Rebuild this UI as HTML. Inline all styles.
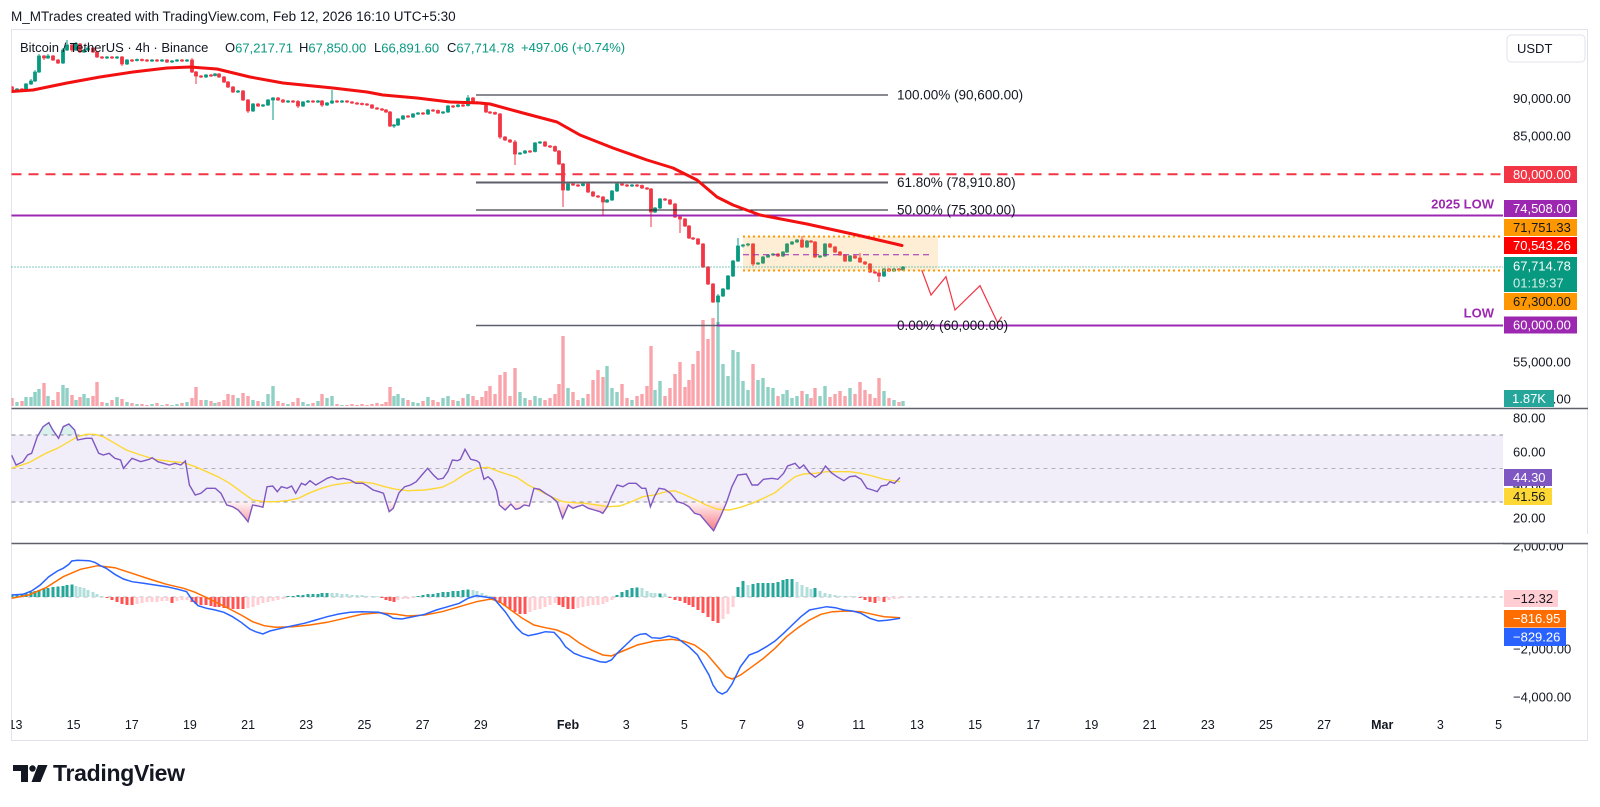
<!DOCTYPE html>
<html><head><meta charset="utf-8"><title>BTCUSDT 4h chart</title>
<style>
html,body{margin:0;padding:0;background:#fff;}
body{width:1600px;height:807px;overflow:hidden;position:relative;}
svg{position:absolute;left:0;top:0;font-family:"Liberation Sans",Arial,sans-serif;}
.ax{font-size:13px;fill:#131722;dominant-baseline:central;}
.lw{font-size:13px;fill:#ffffff;dominant-baseline:central;}
.ld{font-size:13px;fill:#131722;dominant-baseline:central;}
.tm{font-size:12.5px;fill:#131722;text-anchor:middle;dominant-baseline:central;}
.fib{font-size:13.5px;fill:#131722;dominant-baseline:central;}
.hd{font-size:13px;fill:#131722;dominant-baseline:central;}
.hv{font-size:13px;fill:#089981;dominant-baseline:central;}
</style></head><body>
<svg width="1600" height="807" viewBox="0 0 1600 807" xmlns="http://www.w3.org/2000/svg">
<defs>
<clipPath id="cm"><rect x="11.5" y="30" width="1491.5" height="378"/></clipPath>
<clipPath id="cr"><rect x="11.5" y="409" width="1491.5" height="134"/></clipPath>
<clipPath id="cmd"><rect x="11.5" y="544" width="1491.5" height="170"/></clipPath>
<clipPath id="ct"><rect x="11.5" y="712" width="1491.5" height="28"/></clipPath>
<linearGradient id="pg" gradientUnits="userSpaceOnUse" x1="0" y1="502" x2="0" y2="528"><stop offset="0" stop-color="#f23645" stop-opacity="0.05"/><stop offset="1" stop-color="#f23645" stop-opacity="0.6"/></linearGradient>
</defs>

<text x="11" y="16.5" class="hd" style="font-size:13.5px">M_MTrades created with TradingView.com, Feb 12, 2026 16:10 UTC+5:30</text>
<rect x="11.5" y="29.5" width="1576" height="711" fill="#fff" stroke="#e0e3eb"/>

<rect x="11.5" y="435" width="1491.5" height="67" fill="#f2eef9"/>
<line x1="11.5" x2="1503" y1="435" y2="435" stroke="#8a8d96" stroke-dasharray="4 4"/>
<line x1="11.5" x2="1503" y1="468.5" y2="468.5" stroke="#b0b2ba" stroke-dasharray="4 4"/>
<line x1="11.5" x2="1503" y1="502" y2="502" stroke="#8a8d96" stroke-dasharray="4 4"/>
<line x1="11.5" x2="1503" y1="597" y2="597" stroke="#b8bac2" stroke-dasharray="4 4"/>

<g clip-path="url(#cm)">
<path fill="#089981" fill-opacity="0.45" d="M15.3 402h3.4v4h-3.4z M24.3 397h3.4v9h-3.4z M29.3 397h3.4v9h-3.4z M33.3 392h3.4v14h-3.4z M37.3 389h3.4v17h-3.4z M46.3 396h3.4v10h-3.4z M61.3 385h3.4v21h-3.4z M65.3 388h3.4v18h-3.4z M74.3 400h3.4v6h-3.4z M82.3 394h3.4v12h-3.4z M86.3 398h3.4v8h-3.4z M105.3 403h3.4v3h-3.4z M115.3 397h3.4v9h-3.4z M125.3 402h3.4v4h-3.4z M135.3 404h3.4v2h-3.4z M150.3 404h3.4v2h-3.4z M160.3 405h3.4v1h-3.4z M170.3 405h3.4v1h-3.4z M175.3 404h3.4v2h-3.4z M185.3 402h3.4v4h-3.4z M204.3 400h3.4v6h-3.4z M213.3 403h3.4v3h-3.4z M236.3 398h3.4v8h-3.4z M251.3 400h3.4v6h-3.4z M261.3 402h3.4v4h-3.4z M266.3 394h3.4v12h-3.4z M271.3 386h3.4v20h-3.4z M286.3 404h3.4v2h-3.4z M301.3 402h3.4v4h-3.4z M306.3 404h3.4v2h-3.4z M316.3 401h3.4v5h-3.4z M325.3 398h3.4v8h-3.4z M330.3 396h3.4v10h-3.4z M340.3 405h3.4v1h-3.4z M392.3 396h3.4v10h-3.4z M396.3 394h3.4v12h-3.4z M401.3 398h3.4v8h-3.4z M411.3 402h3.4v4h-3.4z M416.3 403h3.4v3h-3.4z M426.3 397h3.4v9h-3.4z M441.3 398h3.4v8h-3.4z M446.3 396h3.4v10h-3.4z M456.3 401h3.4v5h-3.4z M466.3 394h3.4v12h-3.4z M518.3 392h3.4v14h-3.4z M523.3 398h3.4v8h-3.4z M533.3 396h3.4v10h-3.4z M538.3 398h3.4v8h-3.4z M566.3 388h3.4v18h-3.4z M581.3 398h3.4v8h-3.4z M605.3 366h3.4v40h-3.4z M610.3 388h3.4v18h-3.4z M615.3 392h3.4v14h-3.4z M630.3 400h3.4v6h-3.4z M653.3 390h3.4v16h-3.4z M658.3 381h3.4v25h-3.4z M716.3 322h3.4v84h-3.4z M721.3 364h3.4v42h-3.4z M726.3 376h3.4v30h-3.4z M731.3 350h3.4v56h-3.4z M736.3 352h3.4v54h-3.4z M741.3 381h3.4v25h-3.4z M746.3 390h3.4v16h-3.4z M756.3 380h3.4v26h-3.4z M761.3 378h3.4v28h-3.4z M766.3 387h3.4v19h-3.4z M771.3 388h3.4v18h-3.4z M781.3 394h3.4v12h-3.4z M785.3 390h3.4v16h-3.4z M790.3 398h3.4v8h-3.4z M795.3 396h3.4v10h-3.4z M805.3 394h3.4v12h-3.4z M818.3 396h3.4v10h-3.4z M823.3 386h3.4v20h-3.4z M848.3 388h3.4v18h-3.4z M882.3 391h3.4v15h-3.4z M892.3 400h3.4v6h-3.4z M901.3 401h3.4v5h-3.4z"/>
<path fill="#f23645" fill-opacity="0.45" d="M10.3 398h3.4v8h-3.4z M20.3 401h3.4v5h-3.4z M42.3 383h3.4v23h-3.4z M51.3 400h3.4v6h-3.4z M56.3 392h3.4v14h-3.4z M70.3 395h3.4v11h-3.4z M78.3 397h3.4v9h-3.4z M91.3 396h3.4v10h-3.4z M95.3 382h3.4v24h-3.4z M100.3 402h3.4v4h-3.4z M110.3 400h3.4v6h-3.4z M120.3 399h3.4v7h-3.4z M130.3 403h3.4v3h-3.4z M140.3 404h3.4v2h-3.4z M145.3 405h3.4v1h-3.4z M155.3 403h3.4v3h-3.4z M165.3 404h3.4v2h-3.4z M180.3 403h3.4v3h-3.4z M190.3 398h3.4v8h-3.4z M194.3 387h3.4v19h-3.4z M199.3 400h3.4v6h-3.4z M209.3 401h3.4v5h-3.4z M217.3 402h3.4v4h-3.4z M222.3 400h3.4v6h-3.4z M226.3 394h3.4v12h-3.4z M231.3 395h3.4v11h-3.4z M241.3 393h3.4v13h-3.4z M246.3 396h3.4v10h-3.4z M256.3 401h3.4v5h-3.4z M276.3 401h3.4v5h-3.4z M281.3 403h3.4v3h-3.4z M291.3 402h3.4v4h-3.4z M296.3 398h3.4v8h-3.4z M311.3 403h3.4v3h-3.4z M320.3 394h3.4v12h-3.4z M335.3 404h3.4v2h-3.4z M345.3 405h3.4v1h-3.4z M350.3 404h3.4v2h-3.4z M355.3 405h3.4v1h-3.4z M360.3 404h3.4v2h-3.4z M365.3 405h3.4v1h-3.4z M370.3 404h3.4v2h-3.4z M375.3 403h3.4v3h-3.4z M380.3 404h3.4v2h-3.4z M384.3 402h3.4v4h-3.4z M388.3 387h3.4v19h-3.4z M406.3 400h3.4v6h-3.4z M421.3 401h3.4v5h-3.4z M431.3 400h3.4v6h-3.4z M436.3 402h3.4v4h-3.4z M451.3 400h3.4v6h-3.4z M461.3 398h3.4v8h-3.4z M471.3 396h3.4v10h-3.4z M475.3 400h3.4v6h-3.4z M480.3 397h3.4v9h-3.4z M484.3 391h3.4v15h-3.4z M488.3 386h3.4v20h-3.4z M493.3 394h3.4v12h-3.4z M498.3 375h3.4v31h-3.4z M503.3 372h3.4v34h-3.4z M508.3 396h3.4v10h-3.4z M513.3 368h3.4v38h-3.4z M528.3 400h3.4v6h-3.4z M543.3 400h3.4v6h-3.4z M548.3 398h3.4v8h-3.4z M553.3 394h3.4v12h-3.4z M557.3 384h3.4v22h-3.4z M561.3 336h3.4v70h-3.4z M571.3 392h3.4v14h-3.4z M576.3 400h3.4v6h-3.4z M586.3 394h3.4v12h-3.4z M591.3 380h3.4v26h-3.4z M596.3 370h3.4v36h-3.4z M601.3 377h3.4v29h-3.4z M620.3 384h3.4v22h-3.4z M625.3 398h3.4v8h-3.4z M635.3 396h3.4v10h-3.4z M640.3 394h3.4v12h-3.4z M645.3 386h3.4v20h-3.4z M649.3 346h3.4v60h-3.4z M663.3 396h3.4v10h-3.4z M668.3 388h3.4v18h-3.4z M673.3 374h3.4v32h-3.4z M678.3 362h3.4v44h-3.4z M683.3 387h3.4v19h-3.4z M687.3 380h3.4v26h-3.4z M691.3 364h3.4v42h-3.4z M696.3 351h3.4v55h-3.4z M701.3 320h3.4v86h-3.4z M706.3 339h3.4v67h-3.4z M711.3 318h3.4v88h-3.4z M751.3 364h3.4v42h-3.4z M776.3 396h3.4v10h-3.4z M800.3 391h3.4v15h-3.4z M809.3 398h3.4v8h-3.4z M813.3 388h3.4v18h-3.4z M828.3 397h3.4v9h-3.4z M833.3 394h3.4v12h-3.4z M838.3 391h3.4v15h-3.4z M843.3 396h3.4v10h-3.4z M853.3 394h3.4v12h-3.4z M858.3 382h3.4v24h-3.4z M863.3 390h3.4v16h-3.4z M868.3 394h3.4v12h-3.4z M873.3 398h3.4v8h-3.4z M877.3 378h3.4v28h-3.4z M887.3 398h3.4v8h-3.4z M897.3 402h3.4v4h-3.4z"/>

<path fill="none" stroke="#089981" stroke-width="1" d="M17 88V92 M26 83V91 M31 79V85 M35 70V82 M39 54V73 M48 54V59 M63 48V64 M67 40V51 M76 42V51 M84 49V53 M88 46V51 M107 56V59 M117 56V59 M127 59V65 M137 58.5V61.5 M152 59V62 M162 59V62 M172 60V63 M177 59V62 M187 59V62 M206 74V78 M215 73V76.5 M238 90V93 M253 103V112 M263 104V107 M268 99V106 M273 97V120 M288 100V103 M303 101V107 M308 100V103 M318 100V103 M327 102V106 M332 90V104 M342 100V103 M394 124V128 M398 118V126 M403 115V120 M413 113V118 M418 112V115 M428 109V115 M443 111V114 M448 105V113 M458 104V107.5 M468 95V106.5 M520 152V155 M525 150V154 M535 142V152.5 M540 141V144 M568 183V191 M583 183V186.5 M607 199V203 M612 190V201 M617 183V192 M632 184V187 M655 207V213 M660 198V209 M718 294V326 M723 288V297 M728 275V290 M733 260V277 M738 238V262 M743 244V247.5 M748 243V246.5 M758 262V265 M763 256V264 M768 254V258 M773 253V256 M783 251V257 M787 243V253 M792 241V245 M797 239V243 M807 240V248 M820 255V258 M825 243V257 M850 255V262 M884 268V277 M894 268V272 M903 266V271"/>
<path fill="none" stroke="#f23645" stroke-width="1" d="M12 86V92 M22 88V91 M44 55V60 M53 55V61 M58 59V64 M72 44V52 M80 43V53 M93 47V53 M97 51V58 M102 56V59 M112 56V59 M122 56V66 M132 59V62 M142 58.5V61.5 M147 59V62 M157 59V62 M167 59V63 M182 59V62 M192 58V73 M196 71V84 M201 75V78 M211 74V77 M219 73V78 M224 76V83 M228 81V88 M233 86V93 M243 90V101 M248 99V113 M258 103V107 M278 97V101 M283 99V103 M293 100V103 M298 100V108 M313 100V103 M322 100V107 M337 100V103 M347 100V103 M352 101V104 M357 102V105 M362 102.5V105.5 M367 103V106 M372 104V109 M377 107V110 M382 108V111 M386 109V113 M390 111V127 M408 115V118 M423 112V115 M433 109V112 M438 109.5V114 M453 105V108 M463 104V107 M473 97V103 M477 101V104 M482 102V105 M486 103V113 M490 111V114 M495 111.5V115 M500 113V139 M505 136V141 M510 139V143 M515 140V165 M530 150V153 M545 141V147 M550 145V148 M555 145.5V152 M559 150V165 M563 163V207 M573 183V186 M578 184V187 M588 183V193 M593 191V197 M598 195V198 M603 196V215 M622 183V186 M627 184V187 M637 184V187 M642 184.5V189 M647 187V190 M651 188V227 M665 198V201 M670 199V205 M675 203V218 M680 216V233 M685 218V227 M689 225V239 M693 237V240 M698 238V245 M703 243V268 M708 266V285 M713 283V303 M753 243V266 M778 253V257 M802 236V248 M811 240V243 M815 241V258 M830 243V248 M835 246V253 M840 251V256 M845 254V262 M855 255V259 M860 253V263 M865 261V265 M870 263V273 M875 271V274 M879 270V282 M889 268V272 M899 268V271"/>
<path fill="#089981" stroke="#089981" stroke-width="0.8" stroke-linejoin="miter" d="M15.5 89h3v2h-3z M24.5 84h3v6h-3z M29.5 81h3v3h-3z M33.5 72h3v9h-3z M37.5 56h3v16h-3z M46.5 56h3v2h-3z M61.5 50h3v13h-3z M65.5 45h3v5h-3z M74.5 44h3v6h-3z M82.5 50h3v2h-3z M86.5 48h3v2h-3z M105.5 57h3v1h-3z M115.5 57h3v1h-3z M125.5 60h3v4h-3z M135.5 59.5h3v1h-3z M150.5 60h3v1h-3z M160.5 60h3v1h-3z M170.5 61h3v1h-3z M175.5 60h3v1h-3z M185.5 60h3v1h-3z M204.5 75h3v2h-3z M213.5 74h3v1.5h-3z M236.5 91h3v1h-3z M251.5 104h3v7h-3z M261.5 105h3v1h-3z M266.5 100h3v5h-3z M271.5 98h3v2h-3z M286.5 101h3v1h-3z M301.5 102h3v4h-3z M306.5 101h3v1h-3z M316.5 101h3v1h-3z M325.5 103h3v2h-3z M330.5 101h3v2h-3z M340.5 101h3v1h-3z M392.5 125h3v1h-3z M396.5 119h3v6h-3z M401.5 116h3v3h-3z M411.5 114h3v3h-3z M416.5 113h3v1h-3z M426.5 110h3v4h-3z M441.5 112h3v1h-3z M446.5 106h3v6h-3z M456.5 105h3v1.5h-3z M466.5 98h3v7.5h-3z M518.5 153h3v1h-3z M523.5 151h3v2h-3z M533.5 143h3v8.5h-3z M538.5 142h3v1h-3z M566.5 184h3v6h-3z M581.5 184h3v1.5h-3z M605.5 200h3v2h-3z M610.5 191h3v9h-3z M615.5 184h3v7h-3z M630.5 185h3v1h-3z M653.5 208h3v4h-3z M658.5 199h3v9h-3z M716.5 296h3v6h-3z M721.5 289h3v7h-3z M726.5 276h3v13h-3z M731.5 261h3v15h-3z M736.5 246h3v15h-3z M741.5 245h3v1h-3z M746.5 244h3v1h-3z M756.5 263h3v1h-3z M761.5 257h3v6h-3z M766.5 255h3v2h-3z M771.5 254h3v1h-3z M781.5 252h3v4h-3z M785.5 244h3v8h-3z M790.5 242h3v2h-3z M795.5 240h3v2h-3z M805.5 241h3v6h-3z M818.5 256h3v1h-3z M823.5 244h3v12h-3z M848.5 256h3v5h-3z M882.5 269h3v7h-3z M892.5 269h3v2h-3z M901.5 267h3v3h-3z"/>
<path fill="#f23645" stroke="#f23645" stroke-width="0.8" stroke-linejoin="miter" d="M10.5 87h3v4h-3z M20.5 89h3v1h-3z M42.5 56h3v2h-3z M51.5 56h3v4h-3z M56.5 60h3v3h-3z M70.5 45h3v5h-3z M78.5 44h3v8h-3z M91.5 48h3v4h-3z M95.5 52h3v5h-3z M100.5 57h3v1h-3z M110.5 57h3v1h-3z M120.5 57h3v7h-3z M130.5 60h3v1h-3z M140.5 59.5h3v1h-3z M145.5 60h3v1h-3z M155.5 60h3v1h-3z M165.5 60h3v2h-3z M180.5 60h3v1h-3z M190.5 60h3v12h-3z M194.5 72h3v4h-3z M199.5 76h3v1h-3z M209.5 75h3v1h-3z M217.5 74h3v3h-3z M222.5 77h3v5h-3z M226.5 82h3v5h-3z M231.5 87h3v5h-3z M241.5 91h3v9h-3z M246.5 100h3v11h-3z M256.5 104h3v2h-3z M276.5 98h3v2h-3z M281.5 100h3v2h-3z M291.5 101h3v1h-3z M296.5 101.5h3v4.5h-3z M311.5 101h3v1h-3z M320.5 101h3v4h-3z M335.5 101h3v1h-3z M345.5 101h3v1h-3z M350.5 102h3v1h-3z M355.5 103h3v1h-3z M360.5 103.5h3v1h-3z M365.5 104h3v1h-3z M370.5 105h3v3h-3z M375.5 108h3v1h-3z M380.5 109h3v1h-3z M384.5 110h3v2h-3z M388.5 112h3v14h-3z M406.5 116h3v1h-3z M421.5 113h3v1h-3z M431.5 110h3v1h-3z M436.5 110.5h3v2.5h-3z M451.5 106h3v1h-3z M461.5 105h3v1h-3z M471.5 98h3v4h-3z M475.5 102h3v1h-3z M480.5 103h3v1h-3z M484.5 104h3v8h-3z M488.5 112h3v1h-3z M493.5 112.5h3v1.5h-3z M498.5 114h3v23h-3z M503.5 137h3v3h-3z M508.5 140h3v2h-3z M513.5 142h3v12h-3z M528.5 151h3v1h-3z M543.5 142h3v4h-3z M548.5 146h3v1h-3z M553.5 146.5h3v4.5h-3z M557.5 151h3v13h-3z M561.5 164h3v26h-3z M571.5 184h3v1h-3z M576.5 185h3v1h-3z M586.5 184h3v8h-3z M591.5 192h3v4h-3z M596.5 196h3v1h-3z M601.5 197h3v5h-3z M620.5 184h3v1h-3z M625.5 185h3v1h-3z M635.5 185h3v1h-3z M640.5 185.5h3v2.5h-3z M645.5 188h3v1h-3z M649.5 189h3v23h-3z M663.5 199h3v1h-3z M668.5 200h3v4h-3z M673.5 204h3v13h-3z M678.5 217h3v2h-3z M683.5 219h3v7h-3z M687.5 226h3v12h-3z M691.5 238h3v1h-3z M696.5 239h3v5h-3z M701.5 244h3v23h-3z M706.5 267h3v17h-3z M711.5 284h3v18h-3z M751.5 244h3v20h-3z M776.5 254h3v2h-3z M800.5 240h3v7h-3z M809.5 241h3v1h-3z M813.5 242h3v15h-3z M828.5 244h3v3h-3z M833.5 247h3v5h-3z M838.5 252h3v3h-3z M843.5 255h3v6h-3z M853.5 256h3v2h-3z M858.5 258h3v4h-3z M863.5 262h3v2h-3z M868.5 264h3v8h-3z M873.5 272h3v1h-3z M877.5 273h3v3h-3z M887.5 269h3v2h-3z M897.5 269h3v1h-3z"/>

<rect x="743" y="236.5" width="195" height="34" fill="#ff9800" fill-opacity="0.16"/>
<line x1="743" x2="932" y1="254.7" y2="254.7" stroke="#9c27b0" stroke-width="1" stroke-dasharray="6 4"/>
<line x1="11.5" x2="1503" y1="267" y2="267" stroke="#089981" stroke-width="1" stroke-dasharray="1 2"/>
<line x1="743" x2="1503" y1="236.5" y2="236.5" stroke="#ff9800" stroke-width="2" stroke-dasharray="2 3"/>
<line x1="743" x2="1503" y1="270.5" y2="270.5" stroke="#ff9800" stroke-width="2" stroke-dasharray="2 3"/>
<line x1="11.5" x2="1503" y1="174.3" y2="174.3" stroke="#f23645" stroke-width="2" stroke-dasharray="10 7"/>
<line x1="476" x2="888" y1="95" y2="95" stroke="#131722" stroke-width="1"/>
<line x1="476" x2="888" y1="182.5" y2="182.5" stroke="#5d606b" stroke-width="2"/>
<line x1="476" x2="888" y1="210" y2="210" stroke="#131722" stroke-width="1"/>
<line x1="476" x2="888" y1="325.5" y2="325.5" stroke="#5d606b" stroke-width="1.5"/>
<line x1="11.5" x2="1503" y1="215.5" y2="215.5" stroke="#9c27b0" stroke-width="2"/>
<line x1="717" x2="1503" y1="325.5" y2="325.5" stroke="#9c27b0" stroke-width="2"/>
<polyline points="921.7,270 931,295 946,276.7 955,310 980,285.7 997.7,323 1001.7,316.7" fill="none" stroke="#f23645" stroke-width="1.2"/>
<polyline fill="none" stroke="#f21010" stroke-width="3" stroke-linejoin="round" stroke-linecap="round" points="11.5,91.5 33,90 67,83 100,77 133,72 167,68 190,67 217,69 250,77 283,83 333,88 367,92 383,95 417,98 450,102 480,103 490,104 523,113 557,122 580,135 613,148 647,160 673,168 697,180 717,197 733,205 760,215 807,224 857,235 902,245.5"/>
</g>

<text x="897" y="95" class="fib">100.00% (90,600.00)</text>
<text x="897" y="182.5" class="fib">61.80% (78,910.80)</text>
<text x="897" y="210" class="fib">50.00% (75,300.00)</text>
<text x="897" y="325.5" class="fib">0.00% (60,000.00)</text>
<text x="1494" y="204" text-anchor="end" style="font-size:13px;font-weight:bold;fill:#9c27b0;dominant-baseline:central">2025 LOW</text>
<text x="1494" y="313" text-anchor="end" style="font-size:13px;font-weight:bold;fill:#9c27b0;dominant-baseline:central">LOW</text>

<text x="20" y="47.5" class="hd">Bitcoin / TetherUS · 4h · Binance</text>
<text x="225" y="47.5" class="hd">O<tspan class="hv">67,217.71</tspan></text>
<text x="299" y="47.5" class="hd">H<tspan class="hv">67,850.00</tspan></text>
<text x="374" y="47.5" class="hd">L<tspan class="hv">66,891.60</tspan></text>
<text x="447" y="47.5" class="hd">C<tspan class="hv">67,714.78</tspan></text>
<text x="521" y="47.5" class="hv">+497.06 (+0.74%)</text>

<g clip-path="url(#cr)">
<path fill="url(#pg)" d="M225.5 502L226.8 505L232.5 506.7L238.2 510L244 516.7L248 521.7L252.6 505L258.3 506L262.9 507.3L264 502Z M387.6 502L389.2 511.7L393.2 508.3L395 502Z M498.8 502L499.4 505L505.2 510L510.9 504L515.5 509.3L519.5 508.3L524.1 505L529.3 506L530 502Z M558 502L562.6 518.3L568.3 505L572.9 508.3L577 506.7L582.7 505L588.4 508.3L594.2 510L599.9 511.7L602.8 513.3L607.3 506.7L608.5 502Z M649.5 502L650.4 506.7L651.5 502Z M678 502L683.1 503.3L688.9 506.7L694.6 513.3L700.3 515L707.2 523.3L713.6 530.7L720.4 516.7L726.2 503.3L726.5 502Z"/>
<path fill="#089981" fill-opacity="0.15" d="M38.3 435L43.1 426.7L48.8 422.7L52.8 430L56.3 435Z M60.5 435L63.2 426.7L68.9 424L74.6 430L76.1 435Z"/>
<polyline fill="none" stroke="#fdd835" stroke-width="1.4" points="11.5,468.3 28.7,462.7 45.9,453.3 57.4,448.3 68.9,441.7 77.5,436.7 86.1,434.3 94.7,434.3 103.3,436.7 114.8,443.3 126.3,450 140.7,455 155,459.3 172.2,461.7 183.7,462.7 195.2,466.7 206.7,471.7 218.1,476.7 229.6,483.3 241.1,491.7 252.6,500 264.1,501.7 275.5,501.7 287,500.7 298.5,498.3 310,492.7 321.5,488.3 332.9,485 344.4,483.3 358.8,481.7 373.1,483.3 384.6,486.7 396.1,489.3 407.6,490.7 424.8,490 442,487.3 453.5,481.7 465,474 476.5,468.3 488,467.3 499.4,471.7 516.7,477.3 528.1,485 539.6,490.7 551.1,496.7 562.6,501.7 574.1,502.7 585.5,503.3 597,505 608.5,506.7 620,506 631.5,501.7 642.9,496.7 654.4,495 665.9,491.7 674.5,490.7 683.1,494 694.6,499.3 706.1,505 717.6,509.3 729.1,510 740.5,507.3 752,503.3 763.5,498.3 775,492.7 786.5,483.3 795.1,476.7 803.7,474 815.2,473.3 826.6,471.7 838.1,471.7 849.6,471.7 861.1,473.3 872.6,476 884,479.3 900.2,481.7"/>
<polyline fill="none" stroke="#7e57c2" stroke-width="1.4" points="11.5,455 16.1,465 23,461.7 27.6,455 31.6,453.3 37.3,436.7 43.1,426.7 48.8,422.7 52.8,430 58.6,438.3 63.2,426.7 68.9,424 74.6,430 77.5,440 86.1,438.3 91.9,438.3 98.7,453.3 103.3,455 109.1,453.3 114.8,458.3 120.6,460 123.4,468.3 132,458.3 140.7,461.7 149.3,459.3 152.1,457.7 157.9,461.7 163.6,463.3 169.4,465 175.1,463.3 180.8,465 185.4,461 189.4,485 195.2,495 200.9,493.3 206.7,488.3 215.3,488.3 221,493.3 226.8,505 232.5,506.7 238.2,510 244,516.7 248,521.7 252.6,505 258.3,506 262.9,507.3 267,486.7 272.7,486 277.3,491.7 281.3,486.7 287.1,488.3 291.6,486 295.7,493.3 301.4,483.3 305.4,485 310,480.7 315.8,485 321.5,481.7 327.2,478.3 331.8,476.7 337.5,479.3 343.3,478.3 350.2,480 355.9,483.3 362.8,483.3 367.4,486 373.1,490 378.9,491.7 383.5,493.3 389.2,511.7 393.2,508.3 399,492.7 404.7,486.7 410.5,485 416.2,481.7 421.9,475 427.7,468.3 433.4,475 438,479.3 443.2,478.3 447.8,471.7 452.4,460 457.5,460.7 460.4,459.3 465,449.3 470.7,459.3 476.5,460.7 479.4,462.7 484,479.3 488,476.7 492.5,480.7 496.6,490.7 499.4,505 505.2,510 510.9,504 515.5,509.3 519.5,508.3 524.1,505 529.3,506 533.9,488.3 539.6,489.3 545.4,493.3 551.1,496.7 556.9,501.7 562.6,518.3 568.3,505 572.9,508.3 577,506.7 582.7,505 588.4,508.3 594.2,510 599.9,511.7 602.8,513.3 607.3,506.7 611.4,496.7 617.1,485 622.9,486.7 628.6,483.3 636.1,483.3 641.8,488.3 645.8,488.3 650.4,506.7 654.4,496.7 659,488.3 664.8,489.3 670.5,493.3 677.4,501.7 683.1,503.3 688.9,506.7 694.6,513.3 700.3,515 707.2,523.3 713.6,530.7 720.4,516.7 726.2,503.3 731.9,486.7 737.7,475 746.3,474 752,485 757.8,485 763.5,479.3 772.1,478.3 777.8,479.3 783.6,473.3 787.6,466 795.1,463.3 799.7,468.3 803.7,465 809.4,472.7 815.2,477.3 820.9,473.3 825.5,466 831.3,472.7 837,476.7 843.9,480.7 849.6,476.7 855.4,476 861.1,479.3 866.9,488.3 872.6,490 877.2,491.7 881.2,486 887,485 889.8,481.7 894.4,483.3 900,477.5"/>
</g>

<g clip-path="url(#cmd)">
<path fill="#26a69a" d="M10.5 595h3v2h-3z M15.5 595h3v2h-3z M20.5 594h3v3h-3z M24.5 593h3v4h-3z M29.5 592h3v5h-3z M33.5 591h3v6h-3z M37.5 590h3v7h-3z M42.5 589h3v8h-3z M46.5 588h3v9h-3z M51.5 587h3v10h-3z M56.5 586.5h3v10.5h-3z M61.5 586h3v11h-3z M65.5 585h3v12h-3z M70.5 584.5h3v12.5h-3z M286.5 596h3v1h-3z M291.5 596h3v1h-3z M296.5 595h3v2h-3z M301.5 595h3v2h-3z M306.5 594h3v3h-3z M311.5 594h3v3h-3z M316.5 594h3v3h-3z M320.5 593h3v4h-3z M325.5 593h3v4h-3z M416.5 596h3v1h-3z M421.5 595h3v2h-3z M426.5 594h3v3h-3z M431.5 594h3v3h-3z M436.5 593h3v4h-3z M441.5 592h3v5h-3z M446.5 592h3v5h-3z M451.5 591h3v6h-3z M456.5 591h3v6h-3z M461.5 590h3v7h-3z M466.5 589.5h3v7.5h-3z M615.5 595h3v2h-3z M620.5 592h3v5h-3z M625.5 590h3v7h-3z M630.5 588h3v9h-3z M635.5 587.5h3v9.5h-3z M658.5 593.5h3v3.5h-3z M736.5 587h3v10h-3z M741.5 581h3v16h-3z M751.5 584h3v13h-3z M756.5 583h3v14h-3z M761.5 583h3v14h-3z M766.5 583h3v14h-3z M771.5 583h3v14h-3z M776.5 582h3v15h-3z M781.5 580h3v17h-3z M785.5 579h3v18h-3z M790.5 579h3v18h-3z M813.5 588h3v9h-3z"/>
<path fill="#b2dfdb" d="M74.5 586h3v11h-3z M78.5 587h3v10h-3z M82.5 588h3v9h-3z M86.5 590h3v7h-3z M91.5 592h3v5h-3z M95.5 594h3v3h-3z M100.5 596h3v1h-3z M330.5 593h3v4h-3z M335.5 593h3v4h-3z M340.5 594h3v3h-3z M345.5 594h3v3h-3z M350.5 595h3v2h-3z M355.5 595h3v2h-3z M360.5 595h3v2h-3z M365.5 596h3v1h-3z M370.5 596h3v1h-3z M375.5 596.3h3v0.7h-3z M471.5 590h3v7h-3z M475.5 591h3v6h-3z M480.5 593h3v4h-3z M484.5 595h3v2h-3z M488.5 596h3v1h-3z M640.5 588h3v9h-3z M645.5 591h3v6h-3z M649.5 593h3v4h-3z M653.5 593h3v4h-3z M663.5 593.5h3v3.5h-3z M746.5 585h3v12h-3z M795.5 582h3v15h-3z M800.5 585h3v12h-3z M805.5 587h3v10h-3z M809.5 589h3v8h-3z M818.5 591h3v6h-3z M823.5 593h3v4h-3z M828.5 594h3v3h-3z M833.5 595h3v2h-3z M838.5 596h3v1h-3z M843.5 596h3v1h-3z M848.5 596.3h3v0.7h-3z M853.5 596.3h3v0.7h-3z"/>
<path fill="#ff5252" d="M105.5 597h3v1h-3z M110.5 597h3v3h-3z M115.5 597h3v5h-3z M120.5 597h3v7h-3z M125.5 597h3v8h-3z M130.5 597h3v8h-3z M170.5 597h3v6h-3z M190.5 597h3v5h-3z M194.5 597h3v7h-3z M199.5 597h3v8h-3z M204.5 597h3v8h-3z M209.5 597h3v9h-3z M213.5 597h3v10h-3z M217.5 597h3v10h-3z M222.5 597h3v11h-3z M226.5 597h3v11h-3z M231.5 597h3v12h-3z M236.5 597h3v12h-3z M241.5 597h3v12h-3z M380.5 597h3v1h-3z M384.5 597h3v3h-3z M388.5 597h3v4h-3z M392.5 597h3v5h-3z M493.5 597h3v3h-3z M498.5 597h3v6h-3z M503.5 597h3v9h-3z M508.5 597h3v12h-3z M513.5 597h3v15h-3z M518.5 597h3v17h-3z M523.5 597h3v17h-3z M557.5 597h3v8h-3z M561.5 597h3v10h-3z M566.5 597h3v12h-3z M571.5 597h3v12h-3z M668.5 597h3v1h-3z M673.5 597h3v3h-3z M678.5 597h3v4h-3z M683.5 597h3v6h-3z M687.5 597h3v8h-3z M691.5 597h3v10h-3z M696.5 597h3v13h-3z M701.5 597h3v16h-3z M706.5 597h3v20h-3z M711.5 597h3v24h-3z M716.5 597h3v26h-3z M858.5 597h3v1h-3z M863.5 597h3v3h-3z M868.5 597h3v5h-3z M873.5 597h3v6h-3z M882.5 597h3v5h-3z"/>
<path fill="#ffcdd2" d="M135.5 597h3v7h-3z M140.5 597h3v6h-3z M145.5 597h3v5h-3z M150.5 597h3v5h-3z M155.5 597h3v5h-3z M160.5 597h3v4h-3z M165.5 597h3v4h-3z M175.5 597h3v4h-3z M180.5 597h3v3h-3z M185.5 597h3v3h-3z M246.5 597h3v11h-3z M251.5 597h3v10h-3z M256.5 597h3v8h-3z M261.5 597h3v6h-3z M266.5 597h3v5h-3z M271.5 597h3v4h-3z M276.5 597h3v3h-3z M281.5 597h3v2h-3z M396.5 597h3v3h-3z M401.5 597h3v2h-3z M406.5 597h3v2h-3z M411.5 597h3v1h-3z M528.5 597h3v15h-3z M533.5 597h3v13h-3z M538.5 597h3v12h-3z M543.5 597h3v10h-3z M548.5 597h3v8h-3z M553.5 597h3v6h-3z M576.5 597h3v11h-3z M581.5 597h3v10h-3z M586.5 597h3v9h-3z M591.5 597h3v8h-3z M596.5 597h3v8h-3z M601.5 597h3v7h-3z M605.5 597h3v5h-3z M610.5 597h3v3h-3z M721.5 597h3v22h-3z M726.5 597h3v17h-3z M731.5 597h3v10h-3z M877.5 597h3v4h-3z M887.5 597h3v3h-3z M892.5 597h3v2h-3z M897.5 597h3v1.5h-3z M901.5 597h3v1h-3z"/>
<polyline fill="none" stroke="#ff6d00" stroke-width="1.5" points="11.5,598.3 28.7,595 45.9,587.7 63.2,576.7 80.4,569.3 97.6,565.7 114.8,567.7 132,573.3 149.3,579 166.5,584.3 183.7,588.3 195.2,592.3 206.7,597.7 218.2,603.3 229.6,609 241.1,615 252.6,621.7 264.1,625.7 275.6,627.3 292.8,626.7 310,625 327.2,622.3 344.5,618.3 361.7,614.3 378.9,612.7 396.1,614.3 407.6,616 424.8,615 442.1,611.7 459.3,606.7 476.5,601.7 490.9,599 499.4,601.7 510.9,610 522.4,618.3 533.9,625 545.4,627.7 556.9,630 568.4,635 579.8,643.3 591.3,650 602.8,655 611.4,656 622.9,651 637.2,645 654.5,641 671.7,639.3 683.2,641 694.6,645 706.1,653.3 717.6,666.7 726.2,676.7 732,679 740.6,675 752.1,666.7 763.5,658.3 775,648.3 786.5,636.7 798,627.7 809.5,620 821,614.3 832.4,611.7 846.8,611 861.1,611.7 872.6,614.3 884.1,616.7 900.2,617.7"/>
<polyline fill="none" stroke="#2962ff" stroke-width="1.5" points="11.5,595 23,594.3 31.6,591 40.2,585 48.8,576.7 57.4,571 63.2,568.3 68.9,564.3 71.8,561 77.5,560.3 89,560.7 94.7,562.3 100.5,565.7 106.2,568.3 114.8,574.3 123.4,579 132,581.7 143.5,583.3 155,585 166.5,586.7 178,589.3 186.6,591.7 192.3,600 198.1,605.7 206.7,608.3 215.3,610 223.9,612.3 232.5,616.7 241.1,622.3 249.7,629 255.5,631.7 262.9,634 269.8,631 281.3,628.3 292.8,625.7 304.3,623.3 315.8,620 327.2,616.7 338.7,614 350.2,612.3 361.7,611.7 378.9,612.3 387.5,615 393.3,618.3 401.9,619 413.4,616.7 424.8,614.3 436.3,610 447.8,606.7 459.3,603.3 467.9,598.3 476.5,595.7 485.1,597 493.7,598.3 499.4,605 505.2,611.7 510.9,620 516.7,627.7 522.4,633.3 528.1,635.7 536.8,634 545.4,631.7 554,632.3 559.7,638.3 565.5,646.7 574.1,653.3 582.7,656.7 591.3,659 599.9,661.7 605.7,662.3 611.4,660 617.1,653.3 625.8,645 634.4,636.7 640.1,634.3 645.8,633.7 651.6,637.7 660.2,638.3 668.8,636 677.4,638.3 688.9,646.7 697.5,655 703.2,665 709,675 713,685 717.6,691.7 722.2,694 726.8,691.7 731.9,684.3 740.5,666.7 749.2,655 757.8,651.7 766.4,646.7 775,641 783.6,633.3 792.2,625 800.9,616.7 809.5,610 818.1,608.3 826.7,606.7 835.3,607.7 843.9,610 852.5,611 861.1,613.3 869.8,618.3 878.4,621 887,620.3 900.2,618.3"/>
</g>

<line x1="11.5" x2="1588" y1="408.5" y2="408.5" stroke="#5d606b" stroke-width="1.6"/>
<line x1="11.5" x2="1588" y1="543.5" y2="543.5" stroke="#5d606b" stroke-width="1.6"/>

<rect x="1507" y="35" width="78" height="27" rx="4" fill="#fff" stroke="#e0e3eb"/>
<text x="1517" y="48.5" class="ax">USDT</text>
<text x="1513" y="98.5" class="ax">90,000.00</text>
<text x="1513" y="136" class="ax">85,000.00</text>
<text x="1513" y="362" class="ax">55,000.00</text>
<text x="1513" y="399" class="ax">50,000.00</text>

<rect x="1504" y="166" width="73" height="17" fill="#f23645"/><text x="1513" y="174.5" class="lw">80,000.00</text>
<rect x="1504" y="200" width="73" height="17" fill="#9c27b0"/><text x="1513" y="208.5" class="lw">74,508.00</text>
<rect x="1504" y="219" width="73" height="17" fill="#ff9800"/><text x="1513" y="227.5" class="ld">71,751.33</text>
<rect x="1504" y="237" width="73" height="17" fill="#ff0000"/><text x="1513" y="245.5" class="lw">70,543.26</text>
<rect x="1504" y="257" width="73" height="35" fill="#089981"/><text x="1513" y="266" class="lw">67,714.78</text><text x="1513" y="283" class="lw" style="fill:#d6f0ea">01:19:37</text>
<rect x="1504" y="293" width="73" height="17" fill="#ff9800"/><text x="1513" y="301.5" class="ld">67,300.00</text>
<rect x="1504" y="316.5" width="73" height="17" fill="#9c27b0"/><text x="1513" y="325" class="lw">60,000.00</text>
<rect x="1504" y="390" width="50" height="17" fill="#26a69a"/><text x="1512" y="398.5" class="lw">1.87K</text>

<text x="1513" y="418" class="ax">80.00</text>
<text x="1513" y="452" class="ax">60.00</text>
<text x="1513" y="485" class="ax">40.00</text>
<rect x="1504" y="469" width="48" height="17" fill="#7e57c2"/><text x="1513" y="477.5" class="lw">44.30</text>
<rect x="1504" y="488" width="48" height="17" fill="#fdd835"/><text x="1513" y="496.5" class="ld">41.56</text>
<text x="1513" y="518" class="ax">20.00</text>

<text x="1513" y="546" class="ax">2,000.00</text>
<rect x="1504" y="534" width="84" height="9" fill="#fff"/>
<line x1="1503" x2="1588" y1="543.5" y2="543.5" stroke="#5d606b" stroke-width="1.6"/>
<rect x="1504" y="590" width="54" height="17" fill="#ffcdd2"/><text x="1513" y="598.5" class="ld">−12.32</text>
<text x="1513" y="649" class="ax">−2,000.00</text>
<rect x="1504" y="610" width="62" height="17.5" fill="#ff6d00"/><text x="1513" y="618.5" class="lw">−816.95</text>
<rect x="1504" y="628" width="62" height="18" fill="#2962ff"/><text x="1513" y="637" class="lw">−829.26</text>
<text x="1513" y="697" class="ax">−4,000.00</text>

<g clip-path="url(#ct)">
<text x="15.5" y="725" class="tm">13</text>
<text x="73.6" y="725" class="tm">15</text>
<text x="131.8" y="725" class="tm">17</text>
<text x="189.9" y="725" class="tm">19</text>
<text x="248.1" y="725" class="tm">21</text>
<text x="306.2" y="725" class="tm">23</text>
<text x="364.4" y="725" class="tm">25</text>
<text x="422.6" y="725" class="tm">27</text>
<text x="480.8" y="725" class="tm">29</text>
<text x="568" y="725" class="tm" font-weight="bold">Feb</text>
<text x="626.2" y="725" class="tm">3</text>
<text x="684.3" y="725" class="tm">5</text>
<text x="742.5" y="725" class="tm">7</text>
<text x="800.6" y="725" class="tm">9</text>
<text x="858.8" y="725" class="tm">11</text>
<text x="917" y="725" class="tm">13</text>
<text x="975.1" y="725" class="tm">15</text>
<text x="1033.3" y="725" class="tm">17</text>
<text x="1091.4" y="725" class="tm">19</text>
<text x="1149.6" y="725" class="tm">21</text>
<text x="1207.8" y="725" class="tm">23</text>
<text x="1265.9" y="725" class="tm">25</text>
<text x="1324.1" y="725" class="tm">27</text>
<text x="1382.2" y="725" class="tm" font-weight="bold">Mar</text>
<text x="1440.4" y="725" class="tm">3</text>
<text x="1498.6" y="725" class="tm">5</text>
</g>

<path d="M13 765 H28 V782 H21 V771 H13 Z" fill="#131722"/>
<circle cx="32.5" cy="768.5" r="3.2" fill="#131722"/>
<path d="M38 765 H47.5 L40.5 782 H31.5 Z" fill="#131722"/>
<text x="53" y="781" style="font-size:23px;font-weight:bold;fill:#131722;letter-spacing:-0.3px">TradingView</text>
</svg>
</body></html>
